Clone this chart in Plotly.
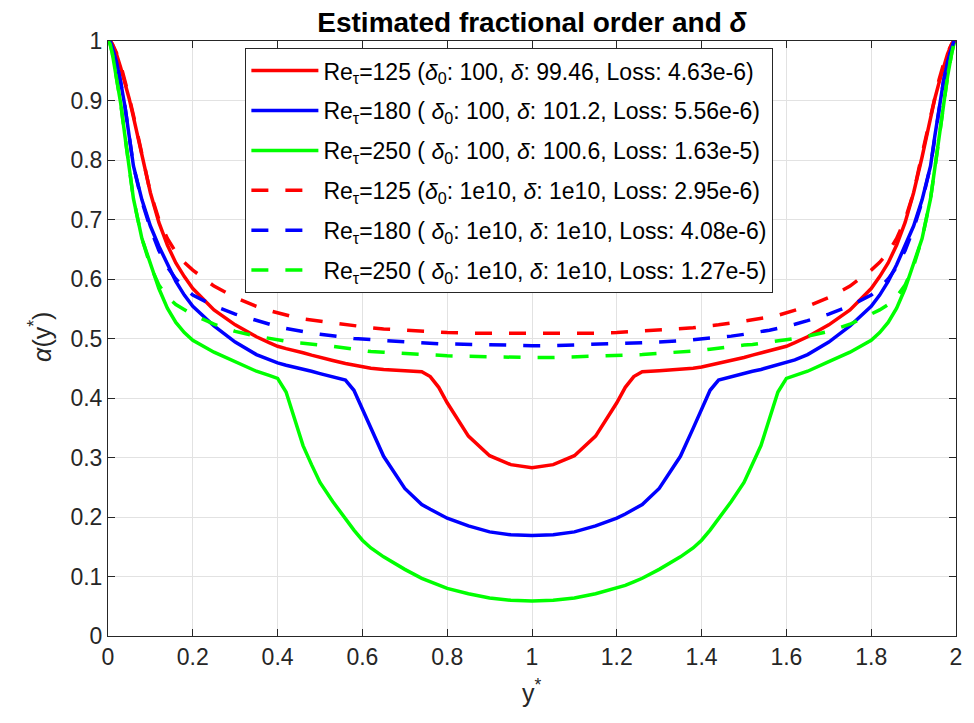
import plotly.graph_objects as go

# y* positions (shared grid)
y_star = [0, 0.005, 0.01, 0.02, 0.03, 0.04, 0.05, 0.06, 0.08, 0.10, 0.12, 0.14, 0.16, 0.18, 0.20,
          0.25, 0.30, 0.35, 0.38, 0.40, 0.42, 0.44, 0.46, 0.48, 0.50, 0.53, 0.56, 0.58, 0.60, 0.62,
          0.65, 0.70, 0.74, 0.76, 0.78, 0.80, 0.85, 0.90, 0.95, 1.00,
          1.05, 1.10, 1.15, 1.20, 1.22, 1.24, 1.26, 1.30, 1.35, 1.38, 1.40, 1.42, 1.44, 1.47, 1.50,
          1.52, 1.54, 1.56, 1.58, 1.60, 1.62, 1.65, 1.70, 1.75, 1.80, 1.82, 1.84, 1.86, 1.88, 1.90,
          1.92, 1.94, 1.95, 1.96, 1.97, 1.98, 1.99, 1.995, 2.0]

# delta0 = 100 (solid)
alpha_re125 = [1.0, 1.0, 0.995, 0.978, 0.955, 0.93, 0.903, 0.872, 0.805, 0.745, 0.695, 0.657, 0.627, 0.604, 0.584,
               0.548, 0.523, 0.503, 0.493, 0.487, 0.483, 0.480, 0.476, 0.472, 0.468, 0.463, 0.458, 0.455, 0.452, 0.450,
               0.448, 0.446, 0.444, 0.436, 0.418, 0.392, 0.336, 0.303, 0.288, 0.283,
               0.288, 0.303, 0.336, 0.392, 0.418, 0.436, 0.444, 0.446, 0.448, 0.450, 0.452, 0.455, 0.458, 0.463, 0.468,
               0.472, 0.476, 0.480, 0.483, 0.487, 0.493, 0.503, 0.523, 0.548, 0.584, 0.604, 0.627, 0.657, 0.695, 0.745,
               0.805, 0.872, 0.903, 0.93, 0.955, 0.978, 0.995, 1.0, 1.0]
alpha_re180 = [1.0, 1.0, 0.99, 0.965, 0.93, 0.89, 0.84, 0.79, 0.733, 0.689, 0.655, 0.624, 0.596, 0.573, 0.554,
               0.521, 0.494, 0.473, 0.464, 0.459, 0.455, 0.452, 0.448, 0.445, 0.441, 0.436, 0.430, 0.413, 0.382, 0.349,
               0.302, 0.248, 0.221, 0.213, 0.205, 0.198, 0.185, 0.175, 0.170, 0.169,
               0.170, 0.175, 0.185, 0.198, 0.205, 0.213, 0.221, 0.248, 0.302, 0.349, 0.382, 0.413, 0.430, 0.436, 0.441,
               0.445, 0.448, 0.452, 0.455, 0.459, 0.464, 0.473, 0.494, 0.521, 0.554, 0.573, 0.596, 0.624, 0.655, 0.689,
               0.733, 0.79, 0.84, 0.89, 0.93, 0.965, 0.99, 1.0, 1.0]
alpha_re250 = [1.0, 0.995, 0.98, 0.94, 0.895, 0.84, 0.785, 0.735, 0.668, 0.624, 0.584, 0.551, 0.527, 0.510, 0.497,
               0.477, 0.461, 0.445, 0.438, 0.433, 0.41, 0.365, 0.32, 0.288, 0.258, 0.226, 0.197, 0.178, 0.161, 0.148,
               0.133, 0.112, 0.097, 0.091, 0.085, 0.080, 0.071, 0.064, 0.060, 0.059,
               0.060, 0.064, 0.071, 0.080, 0.085, 0.091, 0.097, 0.112, 0.133, 0.148, 0.161, 0.178, 0.197, 0.226, 0.258,
               0.288, 0.32, 0.365, 0.41, 0.433, 0.438, 0.445, 0.461, 0.477, 0.497, 0.510, 0.527, 0.551, 0.584, 0.624,
               0.668, 0.735, 0.785, 0.84, 0.895, 0.94, 0.98, 0.995, 1.0]

# delta0 = 1e10 (dashed)
alpha_re125_d = [1.0, 1.0, 0.995, 0.98, 0.96, 0.935, 0.905, 0.875, 0.81, 0.745, 0.70, 0.668, 0.645, 0.628, 0.615,
                 0.588, 0.569, 0.554, 0.547, 0.543, 0.539, 0.536, 0.533, 0.531, 0.529, 0.526, 0.523, 0.521, 0.520, 0.518,
                 0.516, 0.514, 0.512, 0.511, 0.511, 0.510, 0.509, 0.509, 0.508, 0.508,
                 0.508, 0.509, 0.509, 0.510, 0.511, 0.511, 0.512, 0.514, 0.516, 0.518, 0.520, 0.521, 0.523, 0.526, 0.529,
                 0.531, 0.533, 0.536, 0.539, 0.543, 0.547, 0.554, 0.569, 0.588, 0.615, 0.628, 0.645, 0.668, 0.70, 0.745,
                 0.81, 0.875, 0.905, 0.935, 0.96, 0.98, 0.995, 1.0, 1.0]
alpha_re180_d = [1.0, 1.0, 0.99, 0.965, 0.93, 0.89, 0.84, 0.79, 0.73, 0.685, 0.648, 0.620, 0.600, 0.585, 0.573,
                 0.555, 0.541, 0.530, 0.524, 0.520, 0.517, 0.514, 0.511, 0.509, 0.507, 0.504, 0.502, 0.500, 0.499, 0.498,
                 0.496, 0.494, 0.493, 0.492, 0.491, 0.491, 0.490, 0.489, 0.488, 0.488,
                 0.488, 0.489, 0.490, 0.491, 0.491, 0.492, 0.493, 0.494, 0.496, 0.498, 0.499, 0.500, 0.502, 0.504, 0.507,
                 0.509, 0.511, 0.514, 0.517, 0.520, 0.524, 0.530, 0.541, 0.555, 0.573, 0.585, 0.600, 0.620, 0.648, 0.685,
                 0.73, 0.79, 0.84, 0.89, 0.93, 0.965, 0.99, 1.0, 1.0]
alpha_re250_d = [1.0, 0.995, 0.98, 0.94, 0.895, 0.84, 0.785, 0.735, 0.668, 0.622, 0.590, 0.570, 0.557, 0.548, 0.540,
                 0.524, 0.512, 0.504, 0.500, 0.497, 0.495, 0.493, 0.492, 0.490, 0.489, 0.487, 0.484, 0.482, 0.480, 0.478,
                 0.477, 0.475, 0.473, 0.472, 0.472, 0.471, 0.470, 0.469, 0.468, 0.468,
                 0.468, 0.469, 0.470, 0.471, 0.472, 0.472, 0.473, 0.475, 0.477, 0.478, 0.480, 0.482, 0.484, 0.487, 0.489,
                 0.490, 0.492, 0.493, 0.495, 0.497, 0.500, 0.504, 0.512, 0.524, 0.540, 0.548, 0.557, 0.570, 0.590, 0.622,
                 0.668, 0.735, 0.785, 0.84, 0.895, 0.94, 0.98, 0.995, 1.0]

labels = [
    "Re<sub>τ</sub>=125 (<i>δ</i><sub>0</sub>: 100, <i>δ</i>: 99.46, Loss: 4.63e-6)",
    "Re<sub>τ</sub>=180 ( <i>δ</i><sub>0</sub>: 100, <i>δ</i>: 101.2, Loss: 5.56e-6)",
    "Re<sub>τ</sub>=250 ( <i>δ</i><sub>0</sub>: 100, <i>δ</i>: 100.6, Loss: 1.63e-5)",
    "Re<sub>τ</sub>=125 (<i>δ</i><sub>0</sub>: 1e10, <i>δ</i>: 1e10, Loss: 2.95e-6)",
    "Re<sub>τ</sub>=180 ( <i>δ</i><sub>0</sub>: 1e10, <i>δ</i>: 1e10, Loss: 4.08e-6)",
    "Re<sub>τ</sub>=250 ( <i>δ</i><sub>0</sub>: 1e10, <i>δ</i>: 1e10, Loss: 1.27e-5)",
]
series = [alpha_re125, alpha_re180, alpha_re250, alpha_re125_d, alpha_re180_d, alpha_re250_d]
colors = ["#FF0000", "#0000FF", "#00FF00", "#FF0000", "#0000FF", "#00FF00"]
dashes = ["solid", "solid", "solid", "17px,17px", "17px,17px", "17px,17px"]

fig = go.Figure()
for i, (lab, vals, col, dsh) in enumerate(zip(labels, series, colors, dashes)):
    fig.add_trace(go.Scatter(x=y_star, y=vals, mode="lines", name=lab, legendgroup=str(i),
                             line=dict(color=col, width=3.5, dash=dsh)))

axis_common = dict(showgrid=True, gridcolor="#e2e2e2", gridwidth=1, showline=True, linecolor="#262626",
                   linewidth=1, mirror="ticks", ticks="inside", ticklen=7, tickcolor="#262626",
                   zeroline=False, tickfont=dict(size=23, color="#262626"))

fig.update_layout(
    width=974, height=723,
    margin=dict(l=108, r=15, t=41, b=87),
    plot_bgcolor="white", paper_bgcolor="white",
    font=dict(family="Arial, Liberation Sans, sans-serif", size=23, color="#262626"),
    title=dict(text="<b>Estimated fractional order and <i>δ</i></b>", x=0.5, xref="paper", xanchor="center",
               y=1 - 22 / 723, yref="container", yanchor="middle",
               font=dict(size=28, color="black")),
    xaxis=dict(range=[0, 2], tick0=0, dtick=0.2, **axis_common),
    yaxis=dict(range=[0, 1], tick0=0, dtick=0.1, **axis_common),
    legend=dict(x=0.162, y=0.988, xanchor="left", yanchor="top", bgcolor="white",
                bordercolor="#262626", borderwidth=1, font=dict(size=23, color="black"),
                itemwidth=67, traceorder="grouped", tracegroupgap=7),
    showlegend=True,
    annotations=[
        dict(text="y<sup>*</sup>", xref="paper", yref="paper", x=0.5, y=-0.093, xanchor="center",
             yanchor="middle", showarrow=False, font=dict(size=25, color="#262626")),
        dict(text="<i>α</i>(y<sup>*</sup>)", xref="paper", yref="paper", x=-0.08, y=0.503, xanchor="center",
             yanchor="middle", textangle=-90, showarrow=False, font=dict(size=25, color="#262626")),
    ],
)

fig.write_html("out.html")
